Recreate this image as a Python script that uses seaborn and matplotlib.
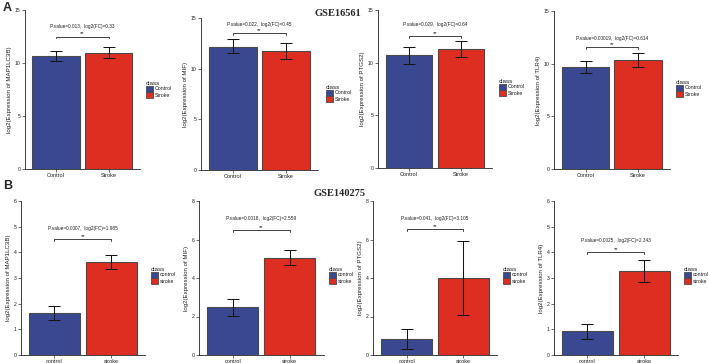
import numpy as np
import pandas as pd
import matplotlib
matplotlib.use("Agg")
import matplotlib.pyplot as plt
import seaborn as sns

# ---------------- data ----------------
genes = ["MAP1LC3B", "MIF", "PTGS2", "TLR4"]

A_groups = ["Control", "Stroke"]
A_ctrl = [10.66, 12.15, 10.72, 9.72]
A_ctrl_lo = [10.20, 11.50, 9.88, 9.15]
A_ctrl_hi = [11.15, 12.97, 11.50, 10.28]
A_strk = [10.97, 11.75, 11.33, 10.35]
A_strk_lo = [10.50, 10.96, 10.57, 9.72]
A_strk_hi = [11.50, 12.50, 12.09, 10.99]
A_pval = ["0.013", "0.022", "0.029", "0.00019"]
A_fc = ["0.33", "0.45", "0.64", "0.614"]
A_bracket = [12.5, 13.5, 12.5, 11.56]
A_text_y = [13.4, 14.35, 13.6, 12.4]
A_ymax = [15, 15, 15, 15]
A_ystep = [5, 5, 5, 5]

B_groups = ["control", "stroke"]
B_ctrl = [1.62, 2.48, 0.85, 0.92]
B_ctrl_lo = [1.35, 2.04, 0.33, 0.62]
B_ctrl_hi = [1.89, 2.93, 1.37, 1.22]
B_strk = [3.61, 5.04, 4.00, 3.26]
B_strk_lo = [3.37, 4.66, 2.09, 2.83]
B_strk_hi = [3.88, 5.44, 5.90, 3.71]
B_pval = ["0.0007", "0.0018", "0.041", "0.0025"]
B_fc = ["1.985", "2.559", "3.105", "2.343"]
B_bracket = [4.51, 6.5, 6.54, 4.0]
B_text_y = [4.91, 7.1, 7.1, 4.46]
B_ymax = [6, 8, 8, 6]
B_ystep = [1, 2, 2, 1]

# ---------------- layout (pixels) ----------------
W, H = 708, 363
A_rects = [(24.5, 140, 10, 169), (201, 318, 18, 170), (378, 492, 10, 168), (554, 669.5, 11, 169)]
B_rects = [(20.5, 145, 201, 355), (199, 323.5, 201, 355), (373, 497, 201, 355), (553.5, 678, 201, 355)]
A_leg = [(143, 78), (323, 82), (496, 76), (673, 77)]
B_leg = [(148, 264), (326, 264), (500, 264), (681, 264)]

sns.set_theme(style="white")
plt.rcParams["font.family"] = ["Liberation Sans", "DejaVu Sans"]

fig = plt.figure(figsize=(W / 100, H / 100), dpi=100)

BLUE = "#3A4892"
RED = "#DE2E22"
EDGE = "#4a4a4a"
TXT = "#1e1e1e"


def panel(rect, leg, groups, gene, c, clo, chi, s, slo, shi, pv, fc, by, ty, ymax, ystep):
    l, r, t, b = rect
    ax = fig.add_axes([l / W, 1 - b / H, (r - l) / W, (b - t) / H])
    df = pd.DataFrame({"class": groups, "value": [c, s]})
    sns.barplot(data=df, x="class", y="value", hue="class", order=groups, hue_order=groups,
                palette={groups[0]: BLUE, groups[1]: RED}, width=0.9, errorbar=None,
                saturation=1, edgecolor=EDGE, linewidth=0.8, legend=True, ax=ax)
    means = np.array([c, s])
    lo = np.array([clo, slo])
    hi = np.array([chi, shi])
    ax.errorbar([0, 1], means, yerr=[means - lo, hi - means], fmt="none", ecolor="#151515",
                elinewidth=0.75, capsize=4, capthick=0.75, zorder=5)
    d = ymax * 0.012
    ax.plot([0, 0, 1, 1], [by - d, by, by, by - d], color="#333333", lw=0.65)
    ax.text(0.5, by + ymax * 0.002, "**", ha="center", va="bottom", fontsize=4.2, color=TXT)
    ax.text(0.5, ty, f"P.value={pv},  log2(FC)={fc}", ha="center", va="center",
            fontsize=3.4, color=TXT)
    ax.set_xlim(-0.6, 1.6)
    ax.set_ylim(0, ymax)
    ax.set_yticks(np.arange(0, ymax + 0.01, ystep))
    ax.set_xlabel("")
    ax.set_ylabel(f"log2(Expression of {gene})", fontsize=4.4, labelpad=2, color=TXT)
    ax.tick_params(axis="both", labelsize=3.7, length=2, width=0.5, pad=1, colors="#333333",
                   labelcolor=TXT, left=True, bottom=True)
    ax.tick_params(axis="x", labelsize=4.0)
    for sp in ["top", "right"]:
        ax.spines[sp].set_visible(False)
    for sp in ["left", "bottom"]:
        ax.spines[sp].set_color("#222222")
        ax.spines[sp].set_linewidth(0.6)
    sns.move_legend(ax, "upper left", bbox_to_anchor=(leg[0] / W, 1 - leg[1] / H),
                    bbox_transform=fig.transFigure, frameon=False, title="class",
                    fontsize=3.8, title_fontsize=4.5, handlelength=1.4, handleheight=1.4,
                    labelspacing=0.0, borderpad=0, handletextpad=0.4, alignment="left")
    lg = ax.get_legend()
    lg.get_title().set_color(TXT)
    for tx in lg.get_texts():
        tx.set_color(TXT)
    for h in lg.legend_handles:
        h.set_edgecolor(EDGE)
        h.set_linewidth(0.6)
    return ax


for i in range(4):
    panel(A_rects[i], A_leg[i], A_groups, genes[i], A_ctrl[i], A_ctrl_lo[i], A_ctrl_hi[i],
          A_strk[i], A_strk_lo[i], A_strk_hi[i], A_pval[i], A_fc[i], A_bracket[i], A_text_y[i],
          A_ymax[i], A_ystep[i])
    panel(B_rects[i], B_leg[i], B_groups, genes[i], B_ctrl[i], B_ctrl_lo[i], B_ctrl_hi[i],
          B_strk[i], B_strk_lo[i], B_strk_hi[i], B_pval[i], B_fc[i], B_bracket[i], B_text_y[i],
          B_ymax[i], B_ystep[i])

fig.text(3 / W, 1 - 2 / H, "A", fontsize=9, fontweight="bold", va="top", ha="left",
         family=["Liberation Sans", "DejaVu Sans"])
fig.text(3 / W, 1 - 180 / H, "B", fontsize=9, fontweight="bold", va="top", ha="left",
         family=["Liberation Sans", "DejaVu Sans"])
fig.text(338 / W, 1 - 14 / H, "GSE16561", fontsize=7.5, fontweight="bold", va="center",
         ha="center", family=["Liberation Serif", "DejaVu Serif"])
fig.text(340 / W, 1 - 193 / H, "GSE140275", fontsize=7.5, fontweight="bold", va="center",
         ha="center", family=["Liberation Serif", "DejaVu Serif"])

fig.savefig("out.png", dpi=100, facecolor="white")
